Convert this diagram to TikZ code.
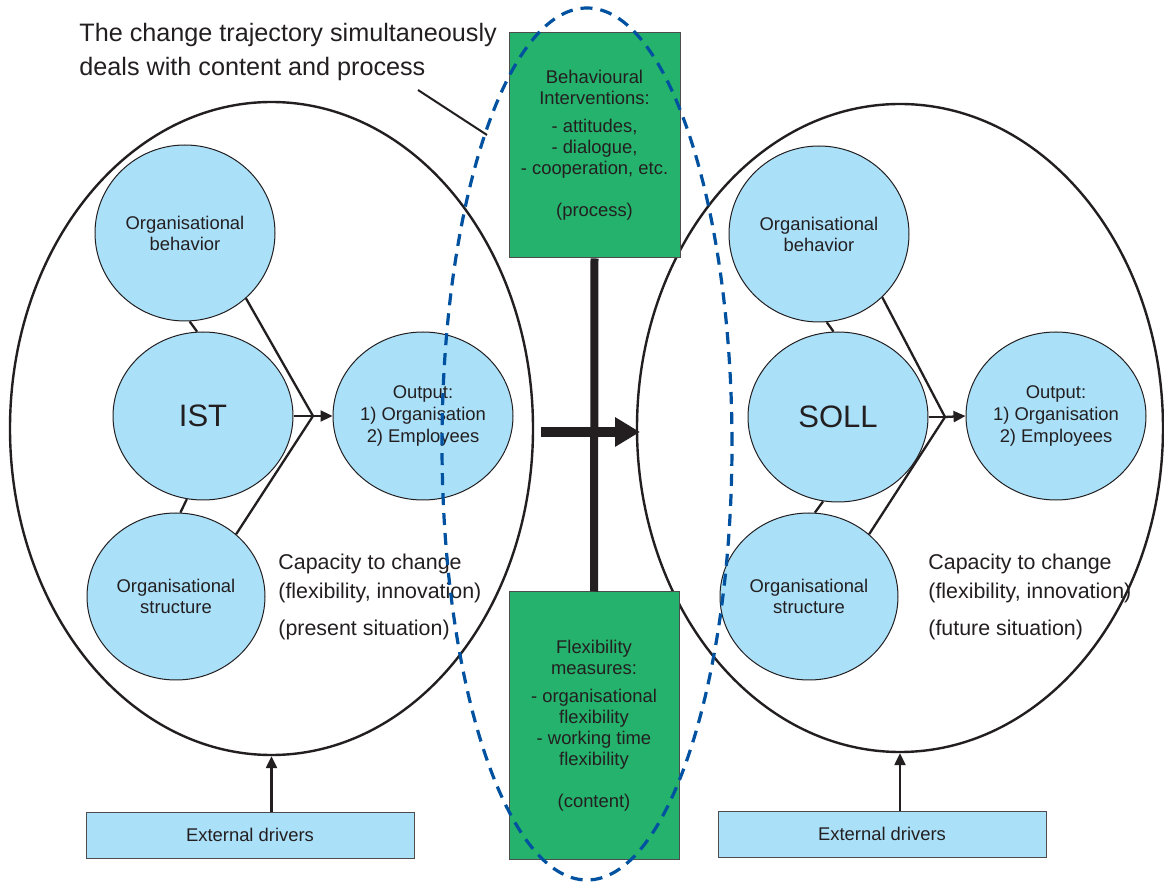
\documentclass[tikz,border=0pt]{standalone}
\usepackage{fontspec}
\setmainfont{Liberation Sans}
\usetikzlibrary{shapes.geometric,arrows.meta}
\definecolor{ink}{RGB}{35,31,32}
\definecolor{lblue}{RGB}{171,224,249}
\definecolor{gfill}{RGB}{36,178,108}
\definecolor{dblue}{RGB}{0,82,160}
\begin{document}
\begin{tikzpicture}[x=0.5pt,y=-0.5pt,
  bigell/.style={ellipse, draw=ink, line width=1.2pt, inner sep=0pt},
  circ/.style={ellipse, draw=ink, fill=lblue, line width=0.5pt, inner sep=0pt, align=center, text=ink, font=\fontsize{9.2}{10.5}\selectfont},
  conn/.style={draw=ink, line width=1.15pt},
  tip/.style={-{Triangle[length=6pt,width=5.5pt]}},
  greenbox/.style={rectangle, draw=ink!80, fill=gfill, line width=0.5pt, inner sep=0pt, align=center, text=ink, font=\fontsize{9.2}{10.5}\selectfont},
  extbox/.style={rectangle, draw=ink!80, fill=lblue, line width=0.5pt, minimum width=164pt, minimum height=23pt, inner sep=0pt, text=ink, font=\fontsize{9.2}{11}\selectfont},
  captext/.style={anchor=north west, align=left, inner sep=0pt, text=ink, font=\fontsize{10.7}{14.5}\selectfont}
]
\useasboundingbox (0,0) rectangle (1164,882);
\fill[white] (0,0) rectangle (1164,882);

% big ellipses
\node[bigell, minimum width=261.5pt, minimum height=326.5pt] (bigL) at (271.5,428.5) {};
\node[bigell, minimum width=263pt, minimum height=324pt] (bigR) at (900,428) {};

% left side circles
\node[circ, minimum width=90pt, minimum height=88pt] (behL) at (185,233) {Organisational\\behavior};
\node[circ, minimum width=90pt, minimum height=84pt, font=\fontsize{15.5}{18}\selectfont] (ist) at (203,416) {IST};
\node[circ, minimum width=89pt, minimum height=83.5pt] (strL) at (176,596.5) {Organisational\\structure};
\node[circ, minimum width=90pt, minimum height=84pt, font=\fontsize{9.2}{11}\selectfont] (outL) at (423,416) {Output:\\1) Organisation\\2) Employees};
\coordinate (mL) at (313,416);

% right side circles
\node[circ, minimum width=90pt, minimum height=88pt] (behR) at (819,234) {Organisational\\behavior};
\node[circ, minimum width=90pt, minimum height=85pt, font=\fontsize{15.5}{18}\selectfont] (soll) at (838,417) {SOLL};
\node[circ, minimum width=89pt, minimum height=83.5pt] (strR) at (809,596.5) {Organisational\\structure};
\node[circ, minimum width=90pt, minimum height=84pt, font=\fontsize{9.2}{11}\selectfont] (outR) at (1056,416) {Output:\\1) Organisation\\2) Employees};
\coordinate (mR) at (945,417);

% left connectors
\draw[conn] (behL.-47) -- (mL);
\draw[conn] (ist.east) -- (mL);
\draw[conn] (strL.46) -- (mL);
\draw[conn, tip] (mL) -- (outL.west);
\draw[conn] (behL.-87) -- (ist.94);
\draw[conn] (ist.-101) -- (strL.87);

% right connectors
\draw[conn] (behR.-45) -- (mR);
\draw[conn] (soll.east) -- (mR);
\draw[conn] (strR.46) -- (mR);
\draw[conn, tip] (mR) -- (outR.west);
\draw[conn] (behR.-85) -- (soll.93);
\draw[conn] (soll.-100) -- (strR.86);

% capacity texts
\node[captext] (capL) at (278,553.5) {Capacity to change\\(flexibility, innovation)\\[4pt](present situation)};
\node[captext] (capR) at (928,553.5) {Capacity to change\\(flexibility, innovation)\\[4pt](future situation)};

% green boxes
\node[greenbox, minimum width=85.5pt, minimum height=112.5pt] (proc) at (594.5,145.5) {Behavioural\\Interventions:\\[3.5pt]- attitudes,\\- dialogue,\\- cooperation, etc.\\[10.5pt](process)};
\node[greenbox, minimum width=85pt, minimum height=133.5pt] (cont) at (594,725.5) {Flexibility\\measures:\\[3.5pt]- organisational\\flexibility\\- working time\\flexibility\\[10.5pt](content)};

% thick bar and arrow
\draw[ink, line width=4pt] (proc.south) -- (cont.north);
\coordinate (ha) at (541,432);
\coordinate (hb) at (640,432);
\draw[ink, line width=5pt, -{Triangle[length=12.5pt,width=14pt]}] (ha) -- (hb);

% external drivers
\node[extbox] (extL) at (250,835) {External drivers};
\node[extbox] (extR) at (882,834) {External drivers};
\draw[conn, tip] (extL.north -| bigL.south) -- (bigL.south);
\draw[conn, tip] (extR.north -| bigR.south) -- (bigR.south);

% title and pointer
\node[anchor=west, align=left, inner sep=0pt, text=ink, font=\fontsize{12.6}{17}\selectfont] (title) at (79,52) {The change trajectory simultaneously\\deals with content and process};
\coordinate (pa) at (418,90);
\coordinate (pb) at (487,135);
\draw[ink, line width=1pt] (pa) -- (pb);

% dashed trajectory ellipse
\draw[dblue, line width=1.6pt, dash pattern=on 6pt off 4pt] (587,444) ellipse [x radius=72.5pt, y radius=218pt];
\end{tikzpicture}
\end{document}
